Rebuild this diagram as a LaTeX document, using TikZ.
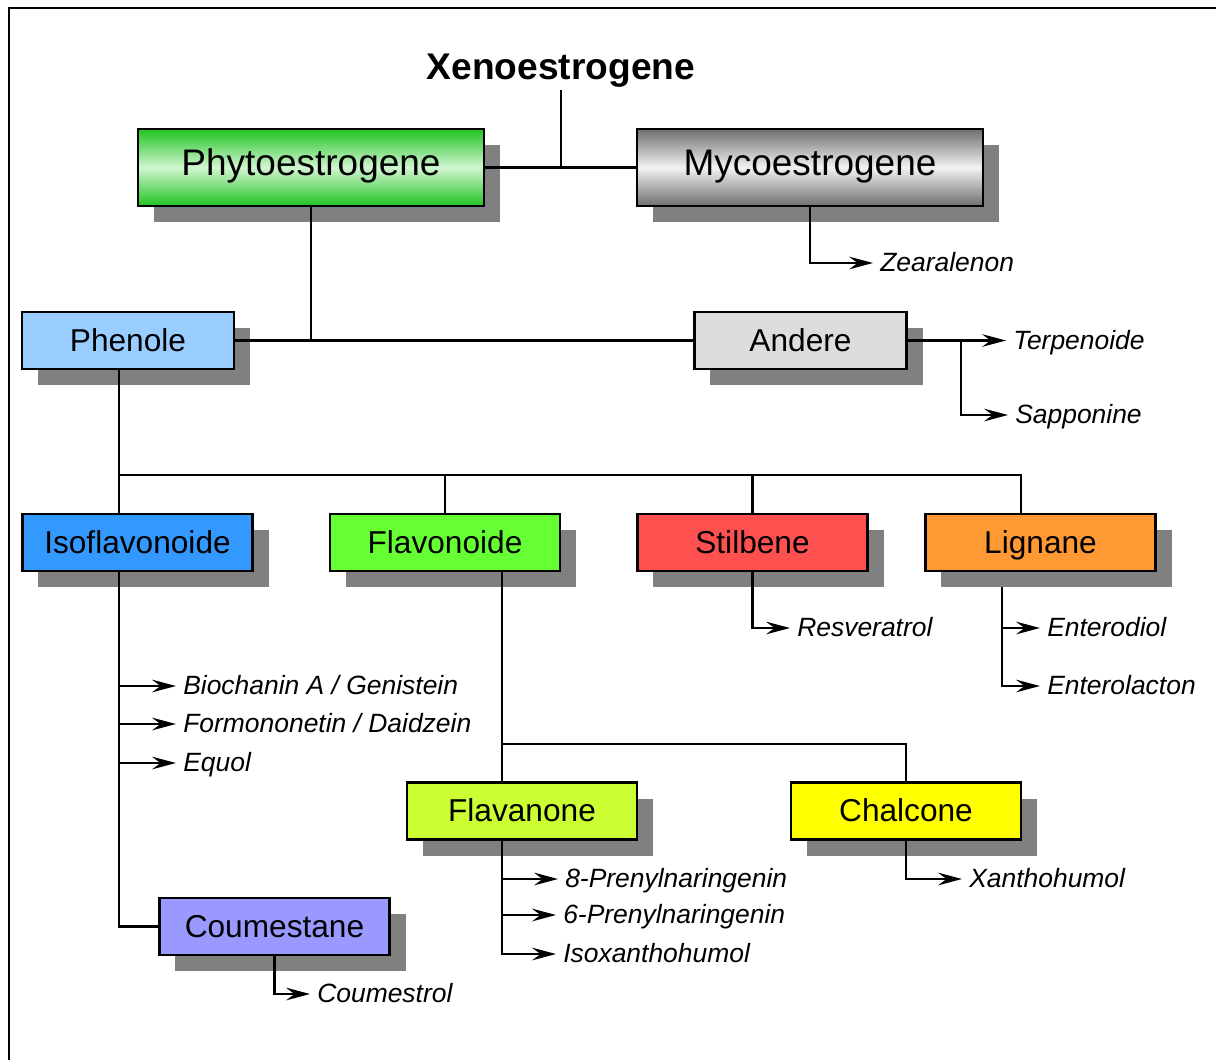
\documentclass[tikz,border=0pt]{standalone}
\usepackage{fontspec}
\setmainfont{Liberation Sans}
\usetikzlibrary{arrows.meta, calc, shadows, backgrounds}
\definecolor{PhytoGreen}{HTML}{1FC41F}
\definecolor{PhytoLight}{HTML}{D2F5D2}
\definecolor{MycoGray}{HTML}{6E6E6E}
\definecolor{MycoLight}{HTML}{F2F2F2}
\definecolor{PhenolBlue}{HTML}{99CCFF}
\definecolor{OtherGray}{HTML}{DDDDDD}
\definecolor{IsoBlue}{HTML}{3399FF}
\definecolor{FlavoGreen}{HTML}{66FF33}
\definecolor{StilRed}{HTML}{FF5050}
\definecolor{LignOrange}{HTML}{FF9933}
\definecolor{FlavaLime}{HTML}{CCFF33}
\definecolor{ChalYellow}{HTML}{FFFF00}
\definecolor{CoumViolet}{HTML}{9999FF}
\definecolor{ShadowGray}{HTML}{808080}
\tikzset{
    % Box styles - hard grey shadow down right
    mainbox/.style={
        rectangle,
        draw=black,
        line width=1.5pt,
        minimum width=8.65cm,
        minimum height=1.925cm,
        inner sep=0pt,
        text centered,
        text height=18.9pt,
        text depth=7.9pt,
        font=\fontsize{26.3}{30}\selectfont,
        drop shadow={shadow xshift=0.4cm, shadow yshift=-0.4cm, fill=ShadowGray, opacity=1}
    },
    classbox/.style={
        rectangle,
        draw=black,
        line width=1.5pt,
        minimum width=5.75cm,
        minimum height=1.425cm,
        inner sep=0pt,
        text centered,
        text height=16.2pt,
        text depth=1.2pt,
        font=\fontsize{22.5}{26}\selectfont,
        drop shadow={shadow xshift=0.4cm, shadow yshift=-0.4cm, fill=ShadowGray, opacity=1}
    },
    titletext/.style={
        inner sep=0.5pt,
        text height=19pt,
        text depth=7pt,
        font=\fontsize{26.4}{30}\selectfont\bfseries
    },
    leaf/.style={
        anchor=west,
        inner xsep=0.175cm,
        inner ysep=0pt,
        text height=13.5pt,
        text depth=1pt,
        font=\fontsize{18.8}{22}\selectfont\itshape
    },
    % Line styles
    tree/.style={
        line width=1.5pt
    },
    leafarrow/.style={
        line width=1.5pt,
        -{Stealth[length=17pt, width=9pt, inset=6pt]}
    }
}
\begin{document}
\begin{tikzpicture}[x=0.025cm, y=-0.025cm]
    \useasboundingbox (0,0) rectangle (1216,1059);
    \draw[line width=1.6pt] (9,1070) -- (9,8) -- (1230,8);

    \node[titletext] (title) at (561,71) {Xenoestrogene};
    \node[mainbox, top color=PhytoGreen, bottom color=PhytoGreen, middle color=PhytoLight] (phyto) at (311,167.5) {Phytoestrogene};
    \node[mainbox, top color=MycoGray, bottom color=MycoGray, middle color=MycoLight] (myco) at (810,167.5) {Mycoestrogene};
    \node[classbox, minimum width=5.3cm, fill=PhenolBlue] (phen) at (128,340.5) {Phenole};
    \node[classbox, minimum width=5.3cm, fill=OtherGray] (andere) at (800.5,340.5) {Andere};
    \node[classbox, fill=IsoBlue] (iso) at (137.5,542.5) {Isoflavonoide};
    \node[classbox, fill=FlavoGreen] (flavo) at (445,542.5) {Flavonoide};
    \node[classbox, fill=StilRed] (stil) at (752.5,542.5) {Stilbene};
    \node[classbox, fill=LignOrange] (lign) at (1040.5,542.5) {Lignane};
    \node[classbox, fill=FlavaLime] (flava) at (522,811) {Flavanone};
    \node[classbox, fill=ChalYellow] (chal) at (906,811) {Chalcone};
    \node[classbox, fill=CoumViolet] (coum) at (274.5,926.5) {Coumestane};

    % substances
    \node[leaf] (zea) at (873,263) {Zearalenon};
    \node[leaf] (terp) at (1006,340.5) {Terpenoide};
    \node[leaf] (sapp) at (1008,415) {Sapponine};
    \node[leaf] (resv) at (790,628) {Resveratrol};
    \node[leaf] (entdiol) at (1040,628) {Enterodiol};
    \node[leaf] (entlact) at (1040,686) {Enterolacton};
    \node[leaf] (bio) at (176,686) {Biochanin A / Genistein};
    \node[leaf] (form) at (176,724) {Formononetin / Daidzein};
    \node[leaf] (equol) at (176,763) {Equol};
    \node[leaf] (pren8) at (558,879) {8-Prenylnaringenin};
    \node[leaf] (pren6) at (556,915) {6-Prenylnaringenin};
    \node[leaf] (isox) at (556,954) {Isoxanthohumol};
    \node[leaf] (xanth) at (962,879) {Xanthohumol};
    \node[leaf] (coumol) at (310,994) {Coumestrol};

    \coordinate (andfork) at (961,340.5);
    \coordinate (phenbus) at (119,475);
    \coordinate (lignbus) at (1021,475);
    \coordinate (flavbus) at (502,744);
    \coordinate (lignaxis) at (1002,600);

    \draw[tree] (title.south) -- (title.south |- phyto.east);
    \draw[tree] (phyto.east) -- (myco.west);
    \draw[tree] (phyto.south) -- (phyto.south |- phen.east);
    \draw[tree] (phen.east) -- (andere.west);
    \draw[leafarrow] (myco.south) |- (zea.west);
    \draw[leafarrow] (andere.east) -- (terp.west);
    \draw[leafarrow] (andfork) |- (sapp.west);

    \draw[tree] (phen.south -| phenbus) -- (iso.north -| phenbus);
    \draw[tree] (phenbus) -- (lignbus) -- (lignbus |- lign.north);
    \draw[tree] (flavo.north) -- (flavo.north |- phenbus);
    \draw[tree] (stil.north) -- (stil.north |- phenbus);

    \draw[tree] (iso.south -| phenbus) |- (coum.west);
    \foreach \leafname in {bio, form, equol}
        \draw[leafarrow] (iso.south -| phenbus) |- (\leafname.west);
    \draw[leafarrow] (coum.south) |- (coumol.west);

    \draw[tree] (flavo.south -| flavbus) -- (flava.north -| flavbus);
    \draw[tree] (flavbus) -| (chal.north);
    \foreach \leafname in {pren8, pren6, isox}
        \draw[leafarrow] (flava.south -| flavbus) |- (\leafname.west);
    \draw[leafarrow] (chal.south) |- (xanth.west);
    \draw[leafarrow] (stil.south) |- (resv.west);

    % lignane line runs behind its shadow
    \begin{scope}[on background layer]
        \foreach \leafname in {entdiol, entlact}
            \draw[leafarrow] (lign.south -| lignaxis) |- (\leafname.west);
    \end{scope}
\end{tikzpicture}
\end{document}
